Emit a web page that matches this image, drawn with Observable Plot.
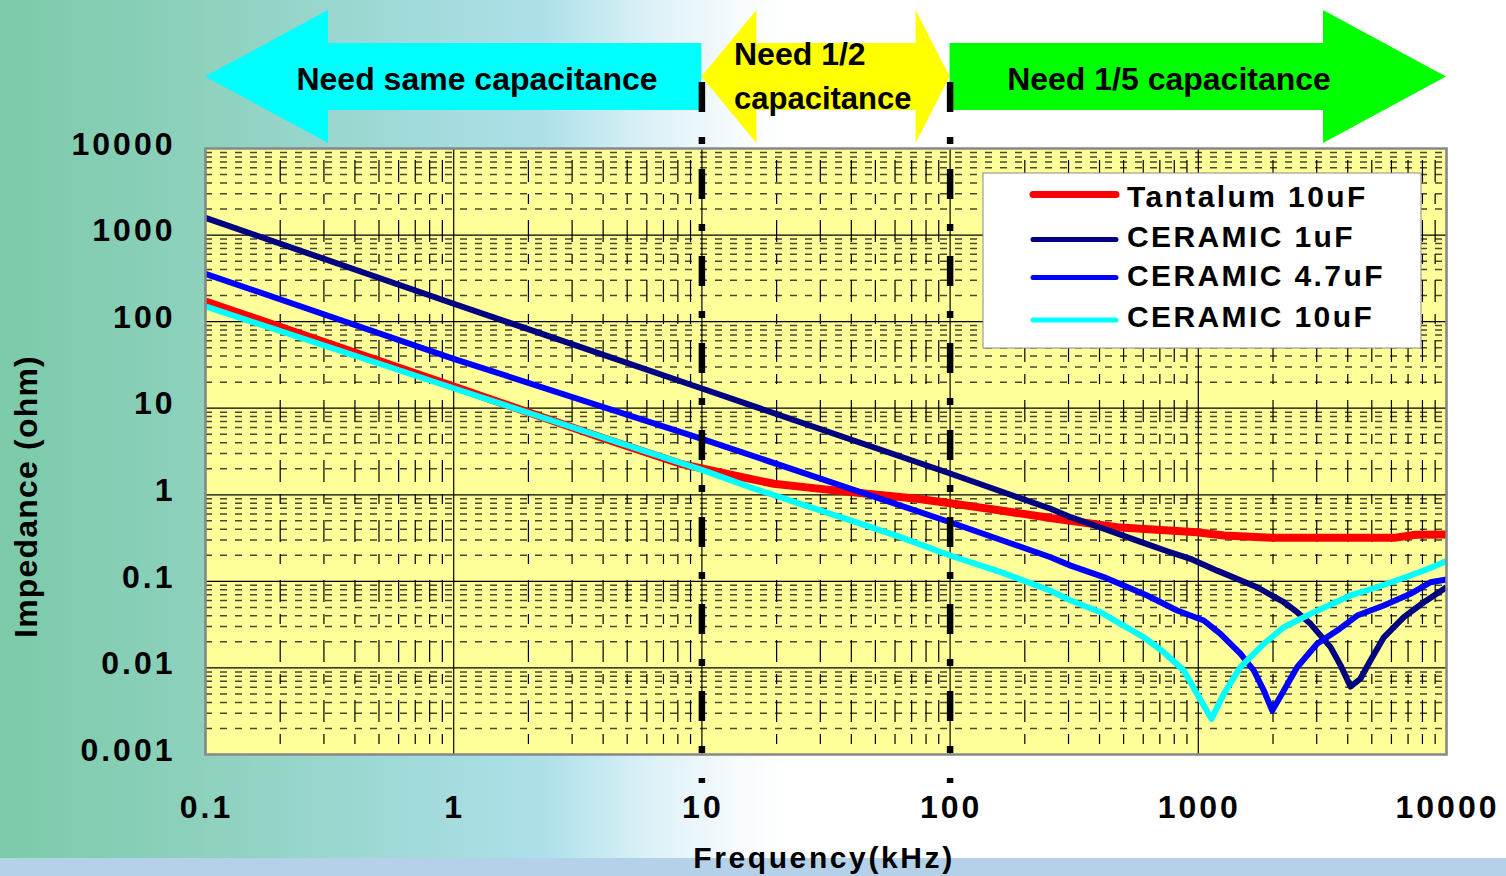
<!DOCTYPE html>
<html><head><meta charset="utf-8">
<script src="https://cdn.jsdelivr.net/npm/d3@7"></script>
<script src="https://cdn.jsdelivr.net/npm/@observablehq/plot@0.6"></script>
<style>
html,body{margin:0;padding:0;overflow:hidden;width:1506px;height:876px;}
#bg{position:absolute;left:0;top:0;width:1506px;height:876px;
  background:linear-gradient(to right,#7ccaa9 0px,#8dd1bd 200px,#a0dad8 400px,#aee0ea 545px,#dcf1f7 650px,#f7fbfd 740px,#ffffff 790px);}
#band{position:absolute;left:0;top:858px;width:1506px;height:18px;background:#b4d1e9;}
#chart{position:absolute;left:0;top:0;}
</style></head><body>
<div id="bg"></div><div id="band"></div><div id="chart"></div>
<script>
(function () {
const FONT = "'Liberation Sans', Arial, Helvetica, sans-serif";

// ---- data ----
const seriesNames  = ["Tantalum 10uF", "CERAMIC 1uF", "CERAMIC 4.7uF", "CERAMIC 10uF"];
const seriesColors = ["#ff0000", "#000080", "#0000ff", "#00ffff"];

const tantalumFreq = [0.1, 1, 3.9, 8.2, 10, 13.5, 19.5, 30, 46.4, 73.7, 100, 160, 254, 471, 988, 1267, 2016, 6138, 7500, 10000];
const tantalumZ    = [171, 17.8, 4.62, 2.28, 2.02, 1.67, 1.34, 1.17, 1.03, 0.90, 0.80, 0.658, 0.54, 0.422, 0.370, 0.339, 0.318, 0.318, 0.345, 0.348];

const ceramic1Freq = [0.1, 1, 10, 100, 254, 306, 416, 567, 750, 930, 1191, 1727, 2211, 2501, 2832, 3411, 3743, 4103, 4500, 4937, 5591, 6730, 8106, 10000];
const ceramic1Z    = [1582, 161, 16.9, 1.76, 0.689, 0.551, 0.405, 0.296, 0.223, 0.182, 0.133, 0.0855, 0.0574, 0.044, 0.0323, 0.0174, 0.0107, 0.0061, 0.0075, 0.0122, 0.0226, 0.0386, 0.0574, 0.0855];

const ceramic47Freq = [0.1, 1, 10, 100, 254, 306, 416, 622, 822, 1052, 1228, 1478, 1673, 1837, 1986, 2211, 2501, 3012, 3627, 4366, 5591, 7161, 8620, 10000];
const ceramic47Z    = [357, 37.2, 4.43, 0.482, 0.190, 0.152, 0.112, 0.0687, 0.046, 0.0353, 0.0248, 0.0146, 0.00934, 0.00548, 0.00322, 0.00548, 0.0102, 0.019, 0.027, 0.0403, 0.0526, 0.0718, 0.0977, 0.105];

const ceramic10Freq = [0.1, 1, 10, 15.7, 24.9, 39.7, 63.1, 100, 160, 254, 306, 404, 486, 603, 726, 874, 988, 1130, 1267, 1478, 1837, 2211, 2832, 4103, 5254, 7161, 8620, 10000];
const ceramic10Z    = [150, 17, 1.94, 1.22, 0.786, 0.505, 0.324, 0.199, 0.128, 0.078, 0.060, 0.044, 0.0323, 0.0226, 0.0152, 0.00934, 0.00502, 0.00258, 0.00502, 0.0102, 0.019, 0.0295, 0.0421, 0.0687, 0.0855, 0.117, 0.143, 0.172];

const xTickValues = [0.1, 1, 10, 100, 1000, 10000];
const xTickLabels = ["0.1", "1", "10", "100", "1000", "10000"];
const yTickValues = [0.001, 0.01, 0.1, 1, 10, 100, 1000, 10000];
const yTickLabels = ["0.001", "0.01", "0.1", "1", "10", "100", "1000", "10000"];

const dividerFreqs = [10, 100];
const regionStart  = [0.1, 10, 100];
const regionEnd    = [10, 100, 10000];
const regionColors = ["#00ffff", "#ffff00", "#00ff00"];
const xTitle = "Frequency(kHz)";
const yTitle = "Impedance (ohm)";

// ---- build table ----
const freqs = [tantalumFreq, ceramic1Freq, ceramic47Freq, ceramic10Freq];
const zs    = [tantalumZ, ceramic1Z, ceramic47Z, ceramic10Z];
const rows = [];
seriesNames.forEach((name, s) => freqs[s].forEach((f, i) => rows.push({name, f, z: zs[s][i]})));
const widths = [8, 6, 6, 6];

const majorSet = new Set(xTickValues.concat(yTickValues).map(v => +v.toPrecision(6)));
const xMinor = d3.scaleLog().domain([0.1, 10000]).ticks().filter(v => !majorSet.has(+v.toPrecision(6)));
const yMinor = d3.scaleLog().domain([0.001, 10000]).ticks().filter(v => !majorSet.has(+v.toPrecision(6)));

const lineMarks = seriesNames.map((name, s) =>
  Plot.line(rows.filter(r => r.name === name), {x: "f", y: "z", stroke: seriesColors[s], strokeWidth: widths[s], strokeLinejoin: "round", strokeLinecap: "butt"}));

const plot = Plot.plot({
  width: 1506, height: 876,
  marginLeft: 205, marginRight: 60, marginTop: 148, marginBottom: 122,
  style: {background: "transparent", overflow: "visible", fontFamily: FONT},
  x: {type: "log", domain: [0.1, 10000], axis: null},
  y: {type: "log", domain: [0.001, 10000], axis: null},
  marks: [
    Plot.frame({fill: "#ffff99"}),
    Plot.ruleY(yMinor, {y: d => d, stroke: "#48482c", strokeWidth: 1.5, strokeDasharray: "7,8"}),
    Plot.ruleX(xMinor, {x: d => d, stroke: "#000", strokeWidth: 1.2, strokeDasharray: "22,12,10,16", strokeDashoffset: 48}),
    Plot.ruleY(yTickValues, {y: d => d, stroke: "#000", strokeWidth: 1.2}),
    Plot.ruleX(xTickValues, {x: d => d, stroke: "#000", strokeWidth: 1.2}),
    ...lineMarks,
    Plot.ruleX(dividerFreqs, {x: d => d, stroke: "#000", strokeWidth: 6.5, strokeDasharray: "30,25,7,25", insetTop: -66, insetBottom: -29}),
    Plot.frame({stroke: "#888", strokeWidth: 2.5}),
    Plot.text(yTickValues, {y: d => d, text: (d, i) => yTickLabels[i], frameAnchor: "left", textAnchor: "end", lineAnchor: "middle", dx: -30, dy: -4, fontSize: 32, fontWeight: "bold"}),
    Plot.text(xTickValues, {x: d => d, text: (d, i) => xTickLabels[i], frameAnchor: "bottom", textAnchor: "middle", lineAnchor: "middle", dx: 1, dy: 53, fontSize: 32, fontWeight: "bold"}),
    Plot.text([xTitle], {text: d => d, frameAnchor: "bottom", textAnchor: "middle", lineAnchor: "middle", dx: -2, dy: 104, fontSize: 30, fontWeight: "bold"}),
    Plot.text([yTitle], {text: d => d, frameAnchor: "left", textAnchor: "middle", lineAnchor: "middle", rotate: -90, dx: -179, dy: 45, fontSize: 32, fontWeight: "bold"})
  ]
});

const svg = d3.select(plot);
svg.selectAll("text").each(function () {
  const t = this.textContent;
  const ls = t === yTitle ? 1.2 : (t === xTitle ? 2.6 : 3);
  d3.select(this).attr("letter-spacing", ls);
});

// ---- region arrows (x from the plot's own scale) ----
const xs = plot.scale("x");
const X = v => xs.apply(v);
const yTopA = 10, shaftTop = 43, shaftBot = 110, yBotA = 143, yMidA = 76.5;
const arrows = svg.insert("g", ":first-child");
{
  const a = X(regionStart[0]), b = X(regionEnd[0]), h = a + 123;
  arrows.append("polygon").attr("fill", regionColors[0])
    .attr("points", [[a, yMidA], [h, yTopA], [h, shaftTop], [b, shaftTop], [b, shaftBot], [h, shaftBot], [h, yBotA]].join(" "));
  const c = X(regionStart[1]), d = X(regionEnd[1]), hl = c + 55, hr = d - 34;
  arrows.append("polygon").attr("fill", regionColors[1])
    .attr("points", [[c, yMidA], [hl, yTopA], [hl, shaftTop], [hr, shaftTop], [hr, yTopA], [d, yMidA], [hr, yBotA], [hr, shaftBot], [hl, shaftBot], [hl, yBotA]].join(" "));
  const e = X(regionStart[2]), f = X(regionEnd[2]), hg = f - 123;
  arrows.append("polygon").attr("fill", regionColors[2])
    .attr("points", [[e, shaftTop], [hg, shaftTop], [hg, yTopA], [f, yMidA], [hg, yBotA], [hg, shaftBot], [e, shaftBot]].join(" "));

  const txt = (x, y, s, anchor, size) => arrows.append("text").attr("x", x).attr("y", y)
    .attr("text-anchor", anchor).attr("font-size", size).attr("font-weight", "bold")
    .attr("font-family", FONT).attr("fill", "#000").text(s);
  txt(477, 89.5, "Need same capacitance", "middle", 32);
  txt(734, 65, "Need 1/2", "start", 32);
  txt(734, 109, "capacitance", "start", 31);
  txt(1169, 89.5, "Need 1/5 capacitance", "middle", 32);
}

// ---- legend ----
const lg = svg.append("g");
lg.append("rect").attr("x", 983).attr("y", 173).attr("width", 438).attr("height", 175)
  .attr("fill", "#fff").attr("stroke", "#8a8a8a").attr("stroke-width", 1);
const lineYs = [194.5, 239.5, 277.5, 320];
const baseYs = [206.7, 247.3, 286, 326.7];
seriesNames.forEach((name, i) => {
  lg.append("line").attr("x1", 1033).attr("x2", 1116).attr("y1", lineYs[i]).attr("y2", lineYs[i])
    .attr("stroke", seriesColors[i]).attr("stroke-width", i === 0 ? 7 : 5).attr("stroke-linecap", "round");
  lg.append("text").attr("x", 1127).attr("y", baseYs[i]).attr("text-anchor", "start")
    .attr("font-size", 30).attr("font-weight", "bold")
    .attr("letter-spacing", 2.4).attr("font-family", FONT).attr("fill", "#000").text(name);
});

document.getElementById("chart").appendChild(plot);
})();
</script></body></html>
